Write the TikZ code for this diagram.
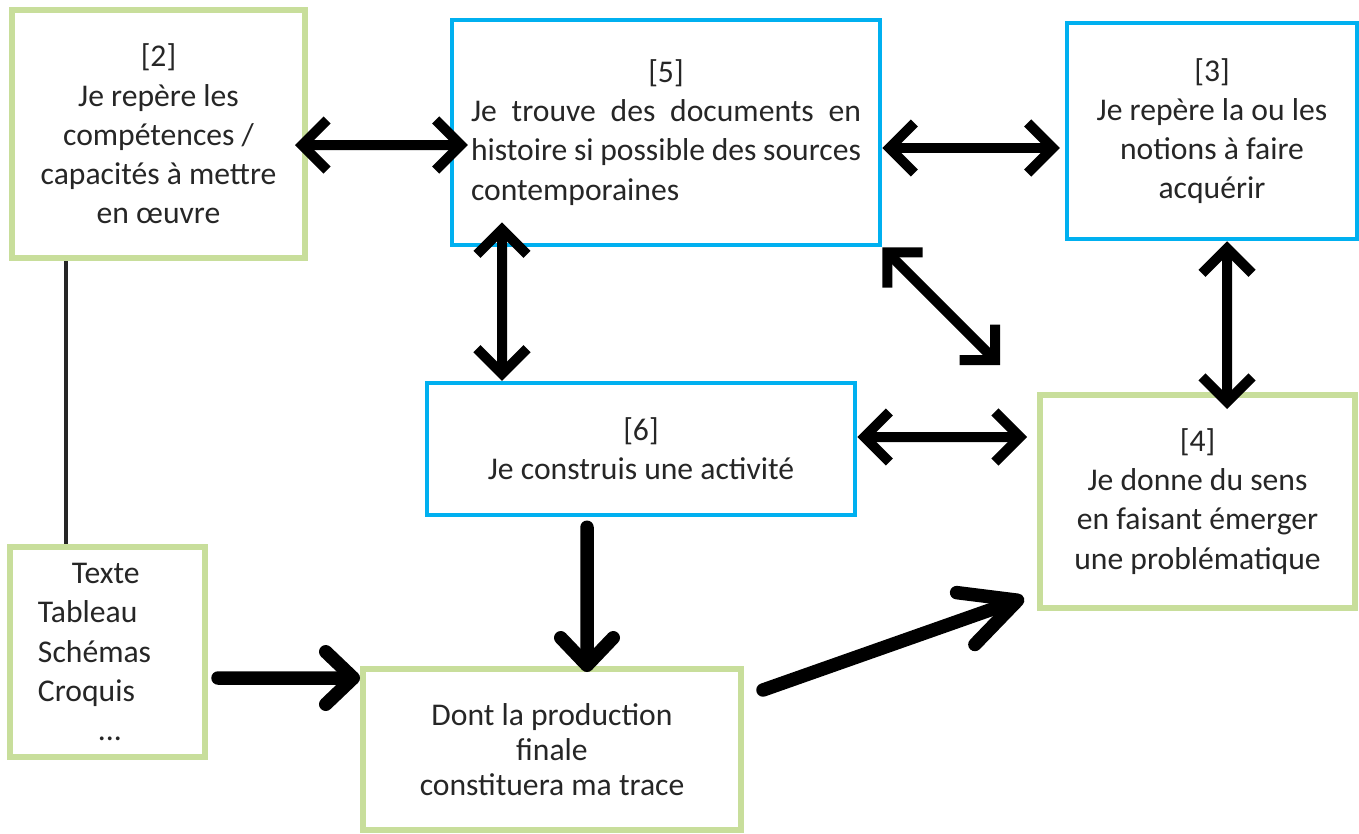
\documentclass[tikz,border=0pt]{standalone}
\usepackage{fontspec}
\setmainfont{Carlito}
\usepackage{xcolor}
\definecolor{fichegreen}{RGB}{200, 222, 155}
\definecolor{ficheblue}{RGB}{0, 176, 240}
\definecolor{fichetext}{RGB}{38, 38, 38}
\usetikzlibrary{arrows.meta,positioning,calc}

\begin{document}
\begin{tikzpicture}
    % Define styles
    \tikzstyle{greenbox} = [rectangle, draw=fichegreen, line width=0.12cm, fill=white,
                            text=fichetext, align=center, inner sep=0pt]
    \tikzstyle{bluebox} = [rectangle, draw=ficheblue, line width=0.09cm, fill=white,
                           text=fichetext, align=center, inner sep=0pt]
    \tikzstyle{dbl} = [{Straight Barb[length=0.5cm, width=1.0cm]}-{Straight Barb[length=0.5cm, width=1.0cm]},
                       line width=0.2cm, black]
    \tikzstyle{fat} = [-{Straight Barb[length=0.55cm, width=1.05cm, round]}, line width=0.27cm,
                       line cap=round, black]

    \useasboundingbox (0,0) rectangle (27.18,-16.68);
    \fontsize{18}{22.3}\selectfont

    % Nodes
    \node[greenbox, minimum width=5.86cm, minimum height=4.96cm] (comp) at (3.17,-2.68)
        {[2]\\Je repère les\\compétences /\\capacités à mettre\\en œuvre};
    \node[bluebox, minimum width=8.56cm, minimum height=4.5cm, text width=7.8cm, align=justify] (docs) at (13.32,-2.65)
        {\hspace*{\fill}[5]\hspace*{\fill}\\Je trouve des documents en\linebreak histoire si possible des sources\linebreak contemporaines};
    \node[bluebox, minimum width=5.8cm, minimum height=4.32cm] (notions) at (24.24,-2.62)
        {[3]\\Je repère la ou les\\notions à faire\\acquérir};
    \node[bluebox, minimum width=8.56cm, minimum height=2.64cm] (activite) at (12.82,-8.98)
        {[6]\\Je construis une activité};
    \node[greenbox, minimum width=6.3cm, minimum height=4.26cm] (sens) at (23.95,-10.03)
        {[4]\\Je donne du sens\\en faisant émerger\\une problématique};
    \node[greenbox, minimum width=3.9cm, minimum height=4.2cm, text width=2.78cm, inner xsep=0.56cm, align=left] (supports) at (2.15,-13.04)
        {\hspace*{0.68cm}Texte\\Tableau\\Schémas\\Croquis\\\hspace*{1.2cm}...};
    \node[greenbox, minimum width=7.56cm, minimum height=3.22cm, font=\fontsize{18}{20}\selectfont] (trace) at (11.04,-14.99)
        {Dont la production\\finale\\constituera ma trace};
    \coordinate (diag) at ($(sens.north west)+(-0.74,0.54)$);

    % Connections
    \draw[line width=0.08cm, fichetext] ([xshift=-1.85cm]comp.south) -- ([xshift=-0.83cm]supports.north);
    \draw[dbl] ([shift={(-0.26,-0.22)}]comp.east) -- ([shift={(0.36,-0.25)}]docs.west);
    \draw[dbl] ([yshift=-0.31cm]docs.east) -- ([shift={(-0.1,-0.34)}]notions.west);
    \draw[dbl] ([shift={(-3.28,0.5)}]docs.south) -- ([xshift=-2.78cm]activite.north);
    \draw[dbl] (docs.south east) -- (diag);
    \draw[dbl] ([xshift=0.3cm]notions.south) -- ([shift={(0.59,-0.34)}]sens.north);
    \draw[dbl] ([yshift=0.24cm]activite.east) -- ([shift={(-0.2,1.29)}]sens.west);
    \draw[fat] ([shift={(-1.08,-0.2)}]activite.south) -- ([shift={(0.7,-0.12)}]trace.north);
    \draw[fat] ([shift={(0.2,-0.52)}]supports.east) -- ([yshift=1.43cm]trace.west);
    \draw[fat, -{Straight Barb[length=1.1cm, width=1.1cm, round]}]
        ([shift={(0.38,-0.48)}]trace.north east) -- ([shift={(-0.26,-1.93)}]sens.west);
\end{tikzpicture}
\end{document}
